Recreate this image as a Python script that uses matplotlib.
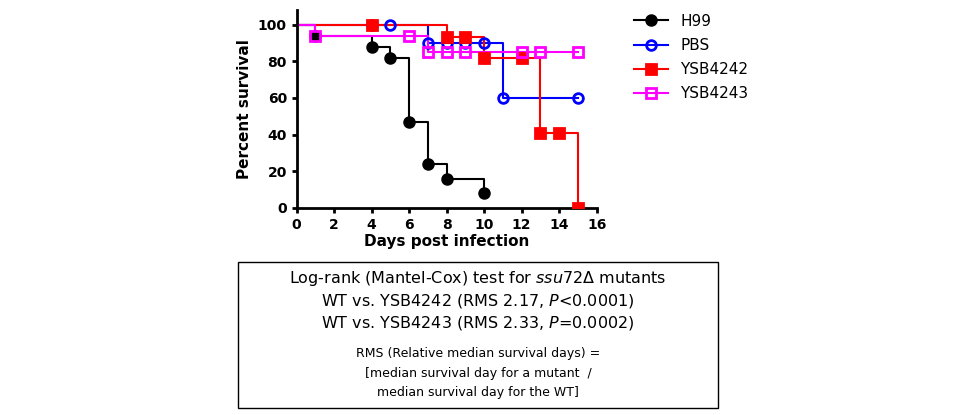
import matplotlib
matplotlib.use("Agg")
import matplotlib.pyplot as plt
import numpy as np

names = ["H99", "PBS", "YSB4242", "YSB4243"]
colors = ["black", "#0000ff", "#ff0000", "#ff00ff"]
markers = ["o", "o", "s", "s"]
filled = [True, False, True, False]
step_t = [[0, 1, 4, 5, 6, 7, 8, 10],
          [0, 7, 11, 15],
          [0, 8, 10, 13, 15],
          [0, 1, 7, 15]]
step_s = [[100, 94, 88, 82, 47, 24, 16, 8],
          [100, 90, 60, 60],
          [100, 93, 82, 41, 0],
          [100, 94, 85, 85]]
mark_t = [[1, 4, 5, 6, 7, 8, 10],
          [4, 5, 7, 8, 9, 10, 11, 15],
          [4, 8, 9, 10, 12, 13, 14, 15],
          [1, 6, 7, 8, 9, 12, 13, 15]]

fig = plt.figure(figsize=(9.6, 4.15), dpi=100)
ax = fig.add_axes([0.309, 0.499, 0.3125, 0.477])
for i in range(4):
    t = np.array(step_t[i]); s = np.array(step_s[i])
    ax.step(t, s, where="post", color=colors[i], lw=1.5, zorder=2 + i * 0.1)
    mt = np.array(mark_t[i])
    idx = np.searchsorted(t, mt, side="right") - 1
    ax.plot(mt, s[idx], ls="none", marker=markers[i], ms=7,
            mfc=colors[i] if filled[i] else "none", mec=colors[i], mew=2,
            zorder=3 + i * 0.1)
    ax.plot([], [], color=colors[i], lw=1.5, marker=markers[i], ms=7,
            mfc=colors[i] if filled[i] else "none", mec=colors[i], mew=2,
            label=names[i])
ax.set_xlim(0, 16)
ax.set_ylim(0, 108)
ax.set_xticks(range(0, 17, 2))
ax.set_yticks(range(0, 101, 20))
for sp in ["top", "right"]:
    ax.spines[sp].set_visible(False)
for sp in ["left", "bottom"]:
    ax.spines[sp].set_linewidth(2)
ax.tick_params(width=2, labelsize=10)
for lab in ax.get_xticklabels() + ax.get_yticklabels():
    lab.set_fontweight("bold")
ax.set_xlabel("Days post infection", fontsize=11, fontweight="bold", labelpad=2)
ax.set_ylabel("Percent survival", fontsize=11, fontweight="bold")
ax.legend(loc="upper left", bbox_to_anchor=(1.08, 1.05), frameon=False,
          fontsize=11, handlelength=2.2, labelspacing=0.6)

fig.patches.append(plt.Rectangle((238 / 960, 1 - 408 / 415), 480 / 960, 146 / 415,
                                 transform=fig.transFigure, fill=False, ec="black", lw=1))
cx = 478 / 960
fig.text(cx, 1 - 279 / 415, r"Log-rank (Mantel-Cox) test for $\it{ssu72}$Δ mutants",
         ha="center", va="center", fontsize=11.5)
fig.text(cx, 1 - 301 / 415, r"WT vs. YSB4242 (RMS 2.17, $\it{P}$<0.0001)",
         ha="center", va="center", fontsize=11.5)
fig.text(cx, 1 - 323 / 415, r"WT vs. YSB4243 (RMS 2.33, $\it{P}$=0.0002)",
         ha="center", va="center", fontsize=11.5)
fig.text(cx, 1 - 353 / 415, "RMS (Relative median survival days) =", ha="center", va="center", fontsize=9)
fig.text(cx, 1 - 373 / 415, "[median survival day for a mutant  /", ha="center", va="center", fontsize=9)
fig.text(cx, 1 - 392 / 415, "median survival day for the WT]", ha="center", va="center", fontsize=9)
fig.savefig("out.png", dpi=100)
